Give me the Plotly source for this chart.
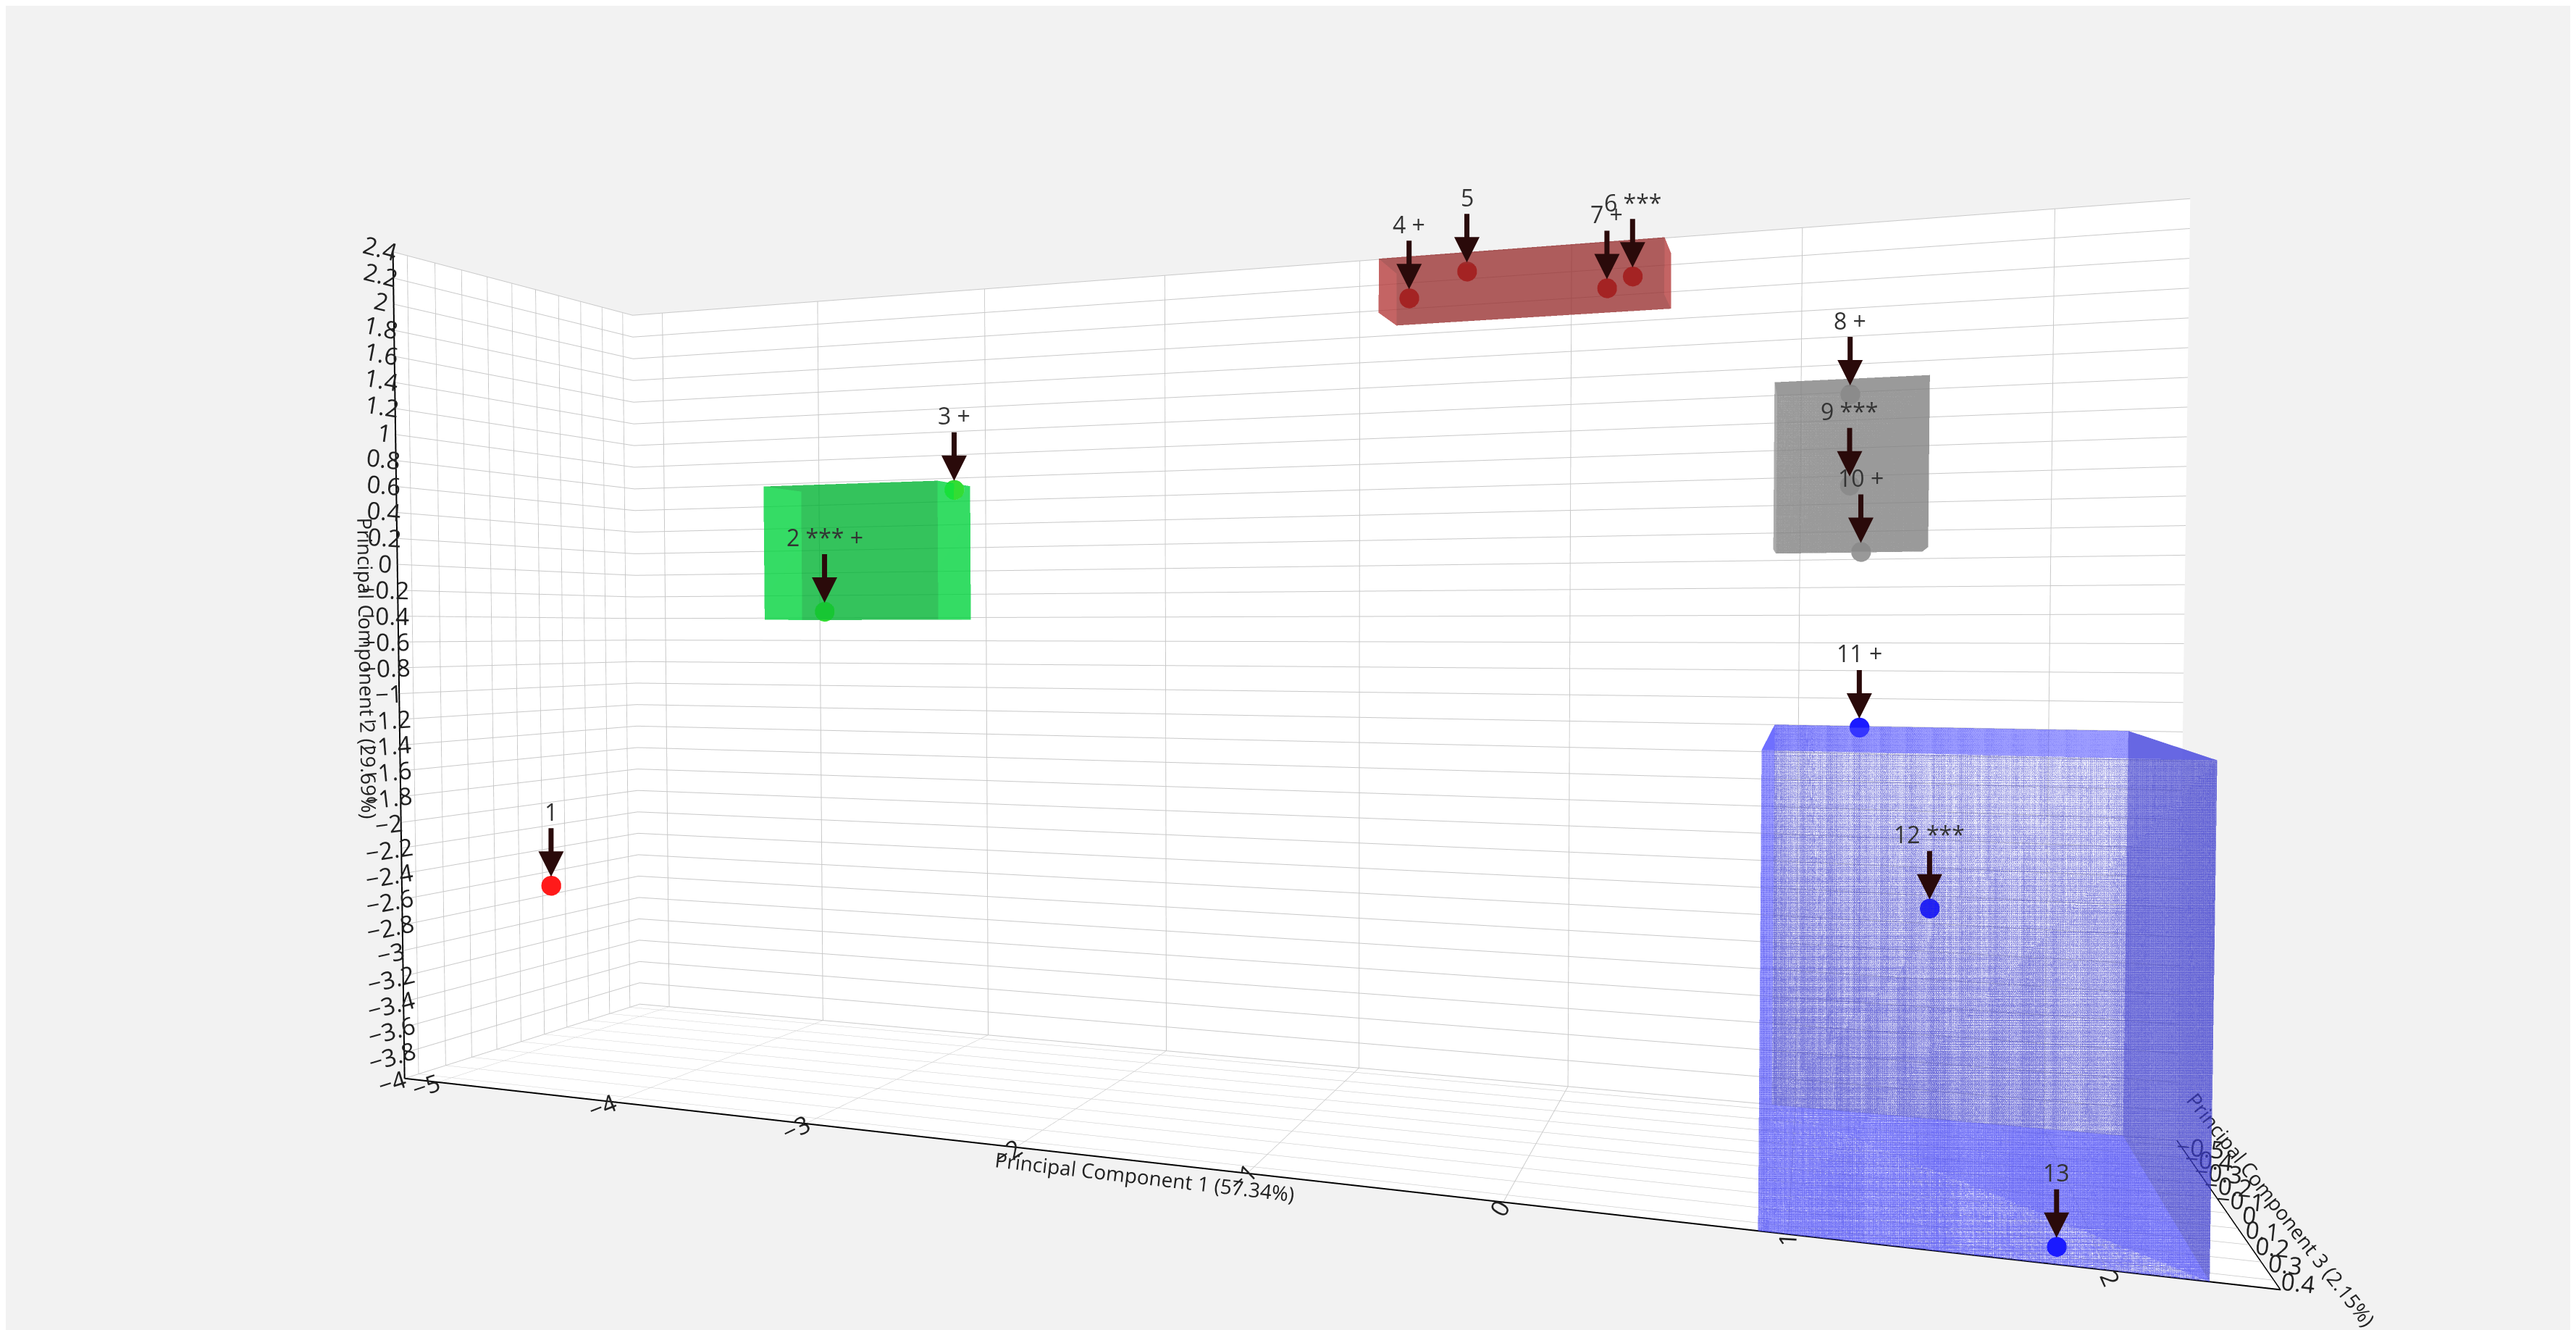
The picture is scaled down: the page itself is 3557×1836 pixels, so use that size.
import plotly.graph_objects as go

labels = ["1", "2 *** +", "3 +", "4 +", "5", "6 ***", "7 +", "8 +", "9 ***", "10 +", "11 +", "12 ***", "13"]
pc1 = [-4.85, -3.7, -3.0, -0.7, -0.45, 0.3, 0.2, 1.2, 1.2, 1.25, 1.25, 1.5, 1.85]
pc2 = [-2.6, -0.35, 0.65, 2.0, 2.2, 2.05, 1.95, 1.15, 0.5, 0.05, -1.2, -2.3, -3.9]
pc3 = [0.1, -0.3, -0.35, -0.4, -0.45, -0.4, -0.35, -0.45, -0.4, -0.5, -0.5, -0.1, 0.45]
colors = ["#ff1a1a", "#33dd33", "#33dd33", "#b01010", "#b01010", "#b01010", "#b01010",
          "#999999", "#999999", "#999999", "#1a1aff", "#1a1aff", "#1a1aff"]

boxes = [  # x0,x1,y0,y1,z0,z1,color
    (-4.0, -3.0, -0.42, 0.7, -0.45, -0.25, "#00e040"),
    (-0.8, 0.45, 1.85, 2.25, -0.5, -0.3, "#c04040"),
    (0.9, 1.5, 0.05, 1.2, -0.55, -0.3, "#a0a0a0"),
    (0.9, 2.3, -4.0, -1.2, -0.55, 0.45, "#4a4aff"),
]

fig = go.Figure()
for x0, x1, y0, y1, z0, z1, c in boxes:
    fig.add_trace(go.Mesh3d(
        x=[x0, x1, x1, x0, x0, x1, x1, x0], y=[y0, y0, y1, y1, y0, y0, y1, y1],
        z=[z0, z0, z0, z0, z1, z1, z1, z1],
        i=[0, 0, 4, 4, 0, 0, 3, 3, 0, 0, 1, 1], j=[1, 2, 5, 6, 1, 5, 2, 6, 3, 7, 2, 6],
        k=[2, 3, 6, 7, 5, 4, 6, 7, 7, 4, 6, 5],
        color=c, opacity=0.55, flatshading=True, hoverinfo="skip", showscale=False))

fig.add_trace(go.Scatter3d(x=pc1, y=pc2, z=pc3, mode="markers",
                           marker=dict(size=16, color=colors), showlegend=False))

ann = [dict(x=a, y=b, z=c, text=t, showarrow=True, ax=0, ay=-90, arrowhead=2,
            arrowsize=1, arrowwidth=7, arrowcolor="#2a0a0a", font=dict(size=32, color="#333"),
            yshift=12) for a, b, c, t in zip(pc1, pc2, pc3, labels)]

ax_common = dict(showgrid=True, gridcolor="#c8c8c8", showbackground=True,
                 backgroundcolor="white", zeroline=False, tickfont=dict(size=20, color="#222"),
                 showline=True, linecolor="black", linewidth=4)
fig.update_layout(
    width=3557, height=1836, paper_bgcolor="#f2f2f2", showlegend=False,
    font=dict(family="Open Sans"),
    margin=dict(l=0, r=0, t=0, b=0),
    scene=dict(
        xaxis=dict(ax_common, range=[-5.2, 2.5], dtick=1,
                   title=dict(text="Principal Component 1 (57.34%)", font=dict(size=28, color="#222"))),
        yaxis=dict(ax_common, range=[-4, 2.4], dtick=0.2,
                   title=dict(text="Principal Component 2 (29.69%)", font=dict(size=28, color="#222"))),
        zaxis=dict(ax_common, range=[-0.55, 0.45], dtick=0.1,
                   title=dict(text="Principal Component 3 (2.15%)", font=dict(size=28, color="#222"))),
        aspectmode="manual", aspectratio=dict(x=2.2, y=1.1, z=0.45),
        camera=dict(eye=dict(x=0.7, y=0.05, z=1.88), up=dict(x=0, y=1, z=0),
                    center=dict(x=0.08, y=0.0, z=0)),
        annotations=ann,
    ),
)
fig.write_html("out.html")
